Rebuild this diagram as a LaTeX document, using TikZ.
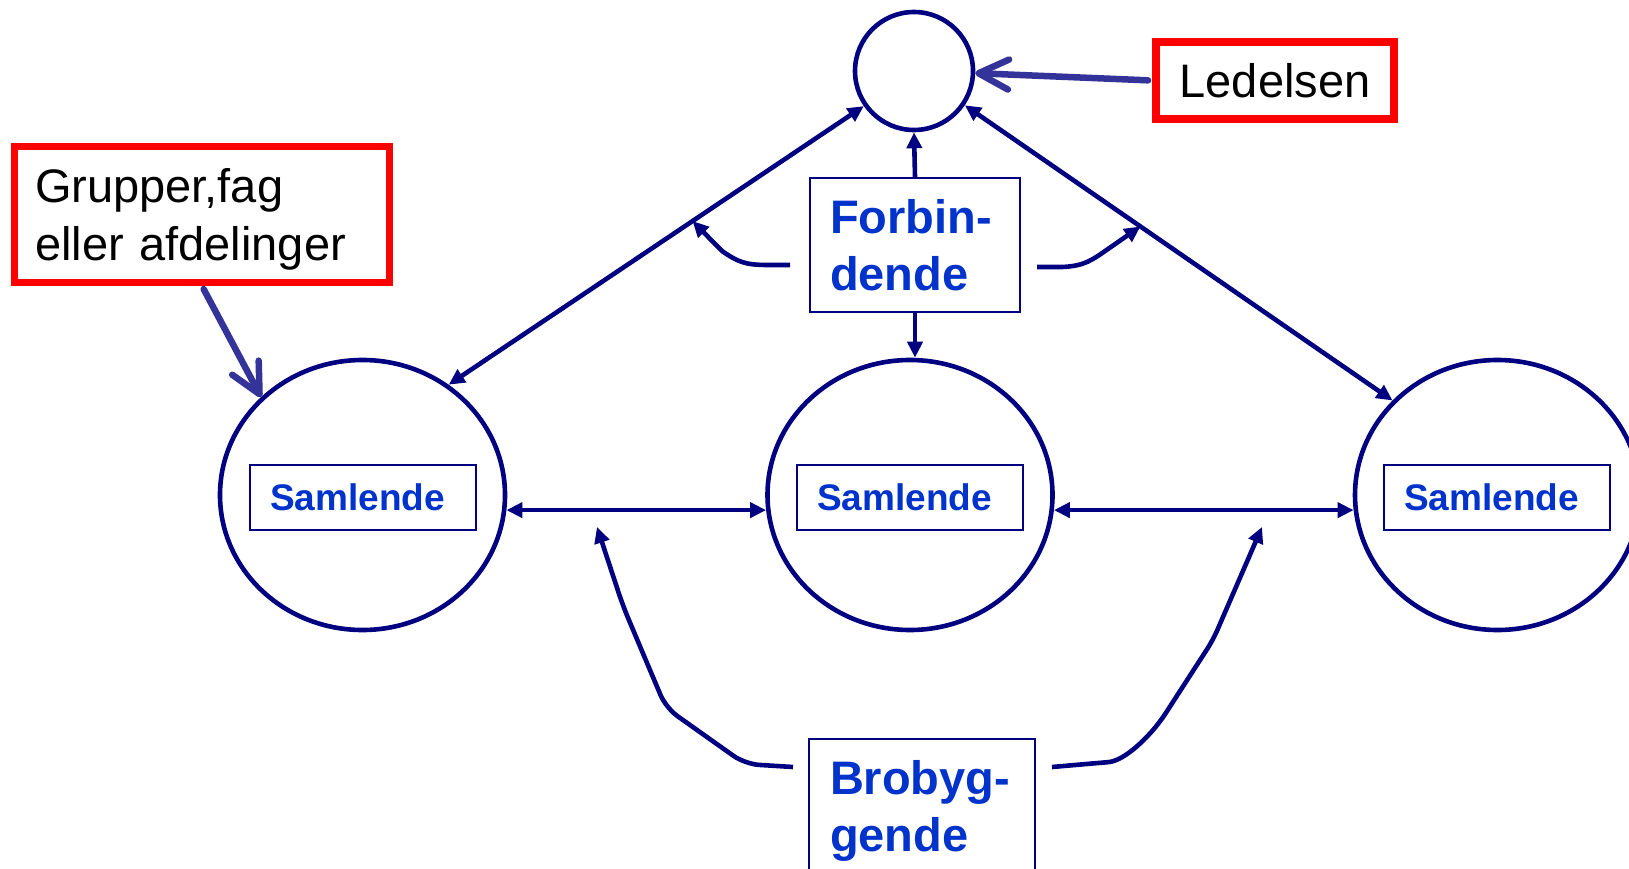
\documentclass[tikz,border=0pt]{standalone}
\usepackage{fontspec}
\setmainfont{Liberation Sans}
\usetikzlibrary{arrows.meta,shapes.geometric}
\definecolor{navyline}{RGB}{0,0,128}
\definecolor{ptrblue}{RGB}{51,51,153}
\definecolor{txtblue}{RGB}{0,51,204}
\definecolor{boxred}{RGB}{255,0,0}
\begin{document}
\begin{tikzpicture}[x=1pt,y=-1pt,
  bigcirc/.style={ellipse, draw=navyline, line width=4.6pt, minimum width=285pt, minimum height=270pt, inner sep=0pt},
  topcirc/.style={circle, draw=navyline, line width=4.6pt, minimum size=118pt, inner sep=0pt},
  samlbox/.style={rectangle, draw=navyline, line width=2pt, text=txtblue, font=\fontsize{37pt}{44pt}\selectfont\bfseries, minimum height=65pt, text width=186pt, inner xsep=20pt, inner ysep=0pt, align=left},
  rolebox/.style={rectangle, draw=navyline, line width=2pt, text=txtblue, font=\fontsize{47pt}{57pt}\selectfont\bfseries, align=left, inner xsep=20pt},
  redbox/.style={rectangle, draw=boxred, line width=7pt, font=\fontsize{47pt}{57pt}\selectfont, text=black},
  conn/.style={draw=navyline, line width=4.6pt, -{Triangle[length=16pt,width=15pt]}},
  biconn/.style={draw=navyline, line width=4.6pt, {Triangle[length=16pt,width=15pt]}-{Triangle[length=16pt,width=15pt]}},
  pointer/.style={draw=ptrblue, line width=6.5pt, line cap=round, -{Straight Barb[length=30pt,width=30pt,round]}}
]
\useasboundingbox (0,0) rectangle (1629,869);
\fill[white] (0,0) rectangle (1629,869);
\clip (0,0) rectangle (1629,869);

% circles
\node[topcirc] (top) at (914,71) {};
\node[bigcirc] (c1) at (362.5,495) {};
\node[bigcirc] (c2) at (910,495) {};
\node[bigcirc] (c3) at (1497.5,495) {};

% inner boxes
\node[samlbox] (s1) at (363,497.5) {Samlende};
\node[samlbox] (s2) at (910,497.5) {Samlende};
\node[samlbox] (s3) at (1497,497.5) {Samlende};

% role boxes
\node[rolebox, text width=170pt, minimum height=134pt, inner ysep=0pt] (fb) at (915,245) {Forbin-\\dende};
\node[rolebox, text width=184pt, inner xsep=21pt, inner ysep=21pt, anchor=north] (bb) at (922,738) {Brobyg-\\gende};

% red label boxes
\node[redbox, line width=8pt, minimum width=238pt, minimum height=77pt, inner sep=0pt] (led) at (1275,80.5) {Ledelsen};
\node[redbox, minimum width=375pt, minimum height=136pt, text width=334pt, inner xsep=20.5pt, inner ysep=0pt, align=left, text height=34pt, text depth=57pt] (grp) at (202,214.5) {Grupper,fag\\eller afdelinger};

% vertical connectors
\draw[conn] (fb.north) -- (top.south);
\draw[conn] (fb.south) -- (fb.south |- c2.north);

% diagonals
\draw[biconn] (c1.52) -- coordinate[pos=0.5875] (dl) (top.215);
\draw[biconn] (top.326) -- coordinate[pos=0.4106] (dr) (c3.138);

% horizontals
\draw[biconn] (c1.-6) -- (c2.186);
\draw[biconn] (c2.-6) -- (c3.186);

% small curved arrows from Forbindende
\coordinate (fl) at (790,265);
\coordinate (fr) at (1037,267);
\draw[conn] (fl) -- (768,265) .. controls (745,265) and (738,262) .. (722,251) -- (dl);
\draw[conn] (fr) -- (1062,267) .. controls (1085,266) and (1092,260) .. (1108,249) -- (dr);

% curved arrows from Brobyggende
\coordinate (bl) at (793,767);
\coordinate (bla) at (597,527);
\coordinate (br) at (1052,767);
\coordinate (bra) at (1262,527);
\draw[conn, rounded corners=14pt] (bl) -- (745,764) -- (666,708) -- (623,606) -- (bla);
\draw[conn, rounded corners=10pt] (br) -- (1098,763) .. controls (1122,761) and (1140,745) .. (1160,722) -- (1213,640) -- (bra);

% pointers from labels
\draw[pointer, shorten <=4pt] (led.west) -- (top.-2);
\draw[pointer, shorten <=3.5pt] (grp.south) -- (c1.136);
\end{tikzpicture}
\end{document}
